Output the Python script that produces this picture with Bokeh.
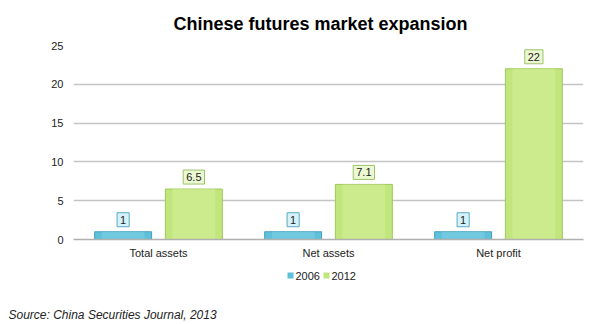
from bokeh.plotting import figure
from bokeh.models import Range1d, FixedTicker, Label, ColumnDataSource, Title
from bokeh.layouts import column
from bokeh.embed import file_html
from bokeh.resources import INLINE
from bokeh.core.properties import value

categories = ["Total assets", "Net assets", "Net profit"]
series_names = ["2006", "2012"]
values_2006 = [1, 1, 1]
values_2012 = [6.5, 7.1, 22]
label_2006 = ["1", "1", "1"]
label_2012 = ["6.5", "7.1", "22"]
y_ticks = [0, 5, 10, 15, 20, 25]
source_note = "Source: China Securities Journal, 2013"

FONT = "Liberation Sans"
C06 = "#5fc0d9"
C12 = "#c2e67e"

p = figure(width=594, height=265, output_backend="svg", toolbar_location=None,
           x_range=Range1d(0, 3), y_range=Range1d(0, 25),
           min_border_left=73, min_border_right=11, min_border_top=10, min_border_bottom=26)
p.outline_line_color = None
p.background_fill_color = "white"

centers = [i + 0.5 for i in range(len(categories))]
off = 0.208
bw = 0.335
x06 = [c - off for c in centers]
x12 = [c + off for c in centers]

src06 = ColumnDataSource(dict(x=x06, top=values_2006, lab=label_2006))
src12 = ColumnDataSource(dict(x=x12, top=values_2012, lab=label_2012))

p.vbar(x="x", top="top", width=bw, source=src06, fill_color=C06, line_color="#4a9fbd", line_width=1)
p.vbar(x="x", top="top", width=bw * 0.75, source=src06, fill_color="#84d2e6", line_color=None, fill_alpha=0.5)
p.vbar(x="x", top="top", width=bw, source=src12, fill_color=C12, line_color="#9dc95a", line_width=1)
p.vbar(x="x", top="top", width=bw * 0.75, source=src12, fill_color="#d6f09c", line_color=None, fill_alpha=0.5)

for src, fc, lc in [(src06, "#d5f1f9", "#5aa9c6"), (src12, "#ecf8d2", "#9cc46a")]:
    d = src.data
    for x, t, lab in zip(d["x"], d["top"], d["lab"]):
        p.add_layout(Label(x=x, y=t, text=lab, x_offset=0, y_offset=12,
                           text_align="center", text_baseline="middle",
                           text_font=FONT, text_font_size="11px", text_color="#222222",
                           background_fill_color=fc, border_line_color=lc, border_line_width=1,
                           padding=3))

p.xaxis.ticker = FixedTicker(ticks=centers)
p.xaxis.major_label_overrides = {c: n for c, n in zip(centers, categories)}
p.xaxis.axis_line_color = "#b0b0b0"
p.xaxis.axis_line_width = 1.5
p.xaxis.major_tick_line_color = None
p.xaxis.major_tick_out = 0
p.xaxis.major_tick_in = 0
p.xaxis.minor_tick_line_color = None
p.xaxis.major_label_text_font = FONT
p.xaxis.major_label_text_font_size = "11px"
p.xaxis.major_label_text_color = "#222222"
p.xaxis.major_label_standoff = 7

p.yaxis.ticker = FixedTicker(ticks=y_ticks)
p.yaxis.axis_line_color = None
p.yaxis.major_tick_line_color = None
p.yaxis.major_tick_out = 0
p.yaxis.major_tick_in = 0
p.yaxis.minor_tick_line_color = None
p.yaxis.major_label_text_font = FONT
p.yaxis.major_label_text_font_size = "11px"
p.yaxis.major_label_text_color = "#222222"
p.yaxis.major_label_standoff = 10

p.xgrid.grid_line_color = None
p.ygrid.ticker = FixedTicker(ticks=y_ticks)
p.ygrid.grid_line_color = "#c4c4c4"
p.ygrid.grid_line_width = 1.5

p.title.text = "Chinese futures market expansion"
p.title.text_font = FONT
p.title.text_font_size = "18px"
p.title.text_font_style = "bold"
p.title.text_color = "#000000"
p.title.align = "left"
p.title.offset = 100
p.title.standoff = 23
p.title.text_line_height = 1.0

# footer: legend (glyphs) and source note (title in the below panel)
f = figure(width=594, height=59, output_backend="svg", toolbar_location=None,
           x_range=Range1d(73, 583), y_range=Range1d(0, 40),
           min_border_left=73, min_border_right=11, min_border_top=0, min_border_bottom=19)
f.axis.visible = False
f.grid.grid_line_color = None
f.outline_line_color = None

leg_x = [290, 326]
leg_y = [30, 30]
leg_src = ColumnDataSource(dict(x=leg_x, y=leg_y, c=[C06, C12]))
f.rect(x="x", y="y", width=6, height=6, width_units="screen", height_units="screen",
       source=leg_src, fill_color="c", line_color=None)
f.text(x=[xx + 5 for xx in leg_x], y=leg_y, text=series_names, text_font=value(FONT),
       text_font_size="11px", text_baseline="middle", text_align="left", text_color="#222222")

f.add_layout(Title(text=source_note, text_font=FONT, text_font_size="12px",
                   text_font_style="italic", text_color="#222222", align="left",
                   offset=-65, standoff=0), "below")

open("out.html", "w").write(file_html(column(p, f, spacing=0), INLINE))
